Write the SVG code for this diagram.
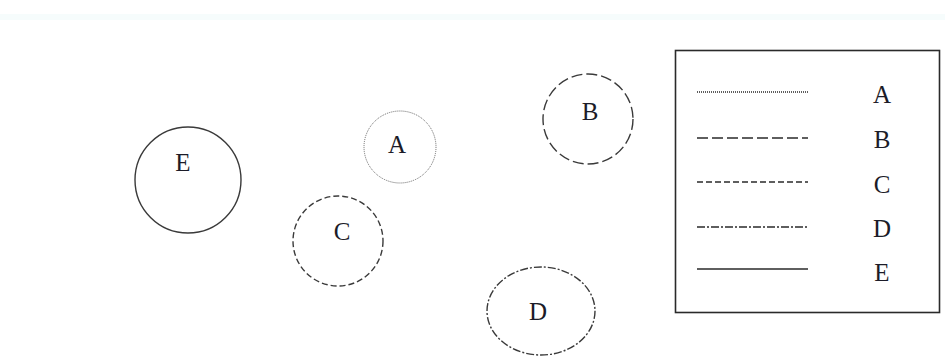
<svg xmlns="http://www.w3.org/2000/svg" width="945" height="358" viewBox="0 0 945 358">
<style>
text{font-family:"Liberation Serif","Times New Roman",serif;font-size:25px;fill:#1c1c28;text-anchor:middle}
.c{fill:none;stroke:#3a3a3a;stroke-width:1.4}
.a{stroke-dasharray:1 1;stroke-width:1;stroke:#666}
.b{stroke-dasharray:11 4}
.cc{stroke-dasharray:6 3}
.d{stroke-dasharray:8 2 2 2}
.l{fill:none;stroke:#2a2a2a;stroke-width:1.4}
</style>
<rect width="945" height="358" fill="#fff"/>
<rect x="0" y="14" width="945" height="6" fill="#f6fcfc"/>
<g id="nodeE"><circle class="c" cx="188" cy="180" r="53"/><text x="183" y="171">E</text></g>
<g id="nodeA"><circle class="c a" cx="400" cy="147" r="36"/><text x="397" y="153">A</text></g>
<g id="nodeC"><circle class="c cc" cx="338" cy="241" r="45"/><text x="342" y="240">C</text></g>
<g id="nodeB"><circle class="c b" cx="588" cy="119" r="45"/><text x="590" y="120">B</text></g>
<g id="nodeD"><ellipse class="c d" cx="541" cy="311" rx="54" ry="44"/><text x="538" y="320">D</text></g>
<g id="legend">
<rect x="675.5" y="50.5" width="264" height="262" fill="none" stroke="#2a2a2a" stroke-width="1.6"/>
<line class="l a" x1="697" y1="92" x2="808" y2="92"/>
<line class="l b" x1="697" y1="138" x2="808" y2="138"/>
<line class="l cc" x1="697" y1="182" x2="808" y2="182"/>
<line class="l d" x1="697" y1="227" x2="808" y2="227"/>
<line class="l" x1="697" y1="269" x2="808" y2="269"/>
<text x="882" y="103">A</text>
<text x="882" y="148">B</text>
<text x="882" y="193">C</text>
<text x="882" y="237">D</text>
<text x="882" y="281">E</text>
</g>
</svg>
